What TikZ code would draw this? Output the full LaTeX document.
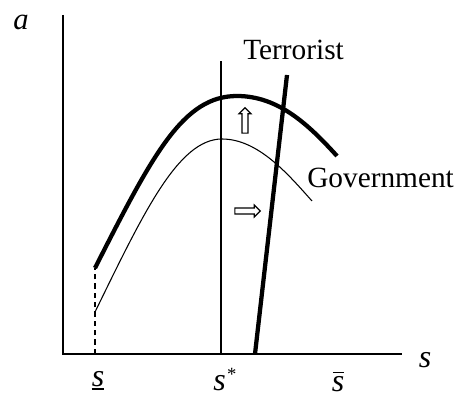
\documentclass[tikz,border=0pt]{standalone}
\usepackage{fontspec}
\setmainfont{Liberation Serif}
\usetikzlibrary{shapes.arrows}

\tikzset{
  lbl/.style={font=\fontsize{22}{26}\selectfont,inner sep=0pt,anchor=base},
  varlbl/.style={font=\fontsize{24}{28}\selectfont\itshape,inner sep=0pt,anchor=base},
  shift arrow/.style={single arrow,draw,line width=0.9pt,minimum height=19pt,
    minimum width=9pt,single arrow head extend=1.6pt,inner sep=1.2pt},
}

\begin{document}
\begin{tikzpicture}[x=0.75pt,y=0.75pt]
\useasboundingbox (-63,-43) rectangle (399,354);
\draw[line width=1.1pt] (0,339) -- (0,0) -- (339,0);
\node[varlbl,font=\fontsize{23}{28}\selectfont\itshape] (alab) at (-42,324) {a};
\node[varlbl] (slab) at (362,-14) {s};
\node[varlbl] (slow) at (35,-33) {s\llap{\rule[-2.4pt]{9.5pt}{1.6pt}}};
\node[varlbl,anchor=base west] (sstar) at (150,-37) {s\hspace{1pt}\raisebox{8pt}{\fontsize{14}{14}\selectfont\upshape *}};
\node[varlbl] (shigh) at (275,-38) {s\llap{\rule[14pt]{8.5pt}{0.8pt}}};
\draw[dash pattern=on 4pt off 3pt,line width=0.8pt] (32,0) -- (32,86);
\draw[line width=0.8pt] (158,0) -- (158,293);
% government best response, before and after
\draw[line width=3.2pt] (32,86) .. controls (90,200) and (120,258) .. (174,258)
  .. controls (215,258) and (245,230) .. (274,198);
\draw[line width=0.8pt] (32,42) .. controls (80,140) and (115,215) .. (159,215)
  .. controls (195,215) and (225,180) .. (249,153);
% terrorist best response
\draw[line width=3.2pt] (192,0) -- (224,279);
\node[lbl,anchor=base west] (terr) at (180,294) {Terrorist};
\node[lbl,anchor=base west] (govt) at (244,166) {Government};
\node[shift arrow,shape border rotate=90] (uparr) at (182,232) {};
\node[shift arrow] (rtarr) at (183,143) {};
\end{tikzpicture}
\end{document}
